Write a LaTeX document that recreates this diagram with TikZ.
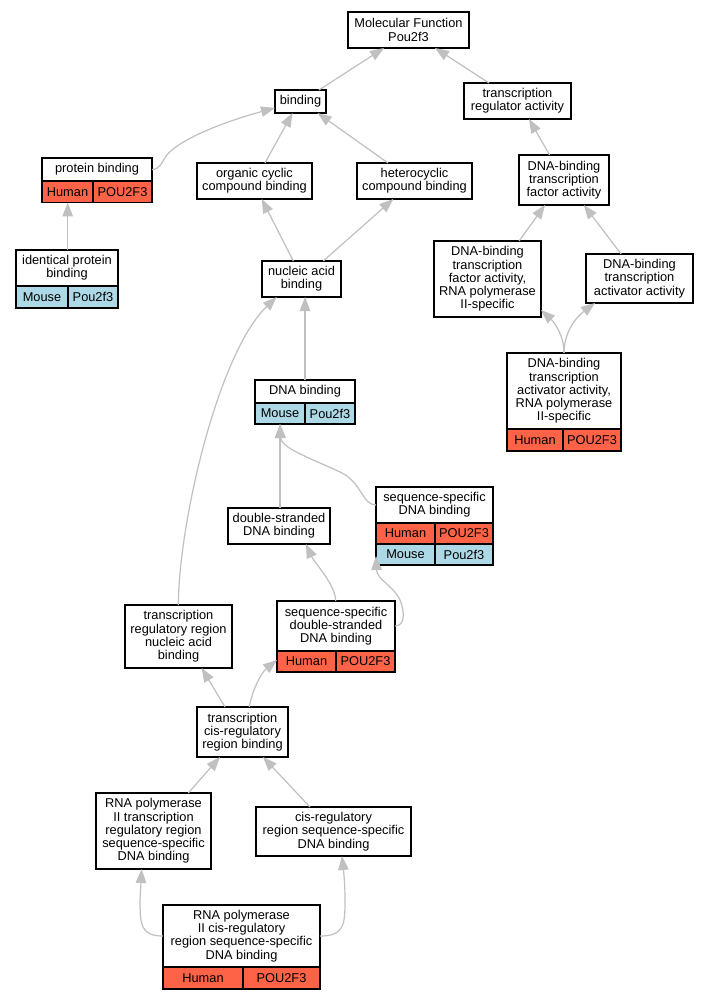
\documentclass[tikz,border=0pt]{standalone}
\usepackage{fontspec}
\setmainfont{Liberation Sans}
\usetikzlibrary{arrows.meta,calc}
\definecolor{human}{HTML}{FF6347}
\definecolor{mouse}{HTML}{ADD8E6}
\definecolor{edgegray}{HTML}{C0C0C0}
\newcommand\gobox[6]{%
  \pgfmathsetmacro\GBw{#4-#2}\pgfmathsetmacro\GBh{#5-#3}%
  \pgfmathsetmacro\GBx{(#2+#4)/2}\pgfmathsetmacro\GBy{(#3+#5)/2}%
  \node[gonode, minimum width=\GBw pt, minimum height=\GBh pt] (#1) at (\GBx,\GBy) {#6};}
\newcommand\gocell[7]{%
  \pgfmathsetmacro\GBw{#4-#2}\pgfmathsetmacro\GBh{#5-#3}%
  \pgfmathsetmacro\GBx{(#2+#4)/2}\pgfmathsetmacro\GBy{(#3+#5)/2}%
  \node[gonode, fill=#6, minimum width=\GBw pt, minimum height=\GBh pt] (#1) at (\GBx,\GBy) {#7};}
\tikzset{
  gonode/.style={draw=black, line width=1.1pt, fill=white, inner sep=0pt, outer sep=0pt,
    align=center, font=\fontsize{12.8}{13.3}\selectfont},
  goedge/.style={draw=edgegray, line width=1.2pt, -{Triangle[length=14pt,width=10.5pt]}}
}
\begin{document}
\begin{tikzpicture}[x=1pt,y=-1pt]
\fill[white] (0,0) rectangle (709,1000);
\useasboundingbox (0,0) rectangle (709,1000);
% nodes
\gobox{mf}{348}{12}{469}{48}{Molecular Function\\Pou2f3}
\gobox{bind}{275}{90}{326}{113}{binding}
\gobox{tra}{464}{83}{571}{119}{transcription\\regulator activity}
\gobox{pb}{42}{158}{152}{181}{protein binding}
\gocell{pbh}{42}{181}{93}{202.5}{human}{Human}
\gocell{pbg}{93}{181}{152}{202.5}{human}{POU2F3}
\gobox{occb}{197}{163}{312}{199}{organic cyclic\\compound binding}
\gobox{hcb}{357}{163}{472}{199}{heterocyclic\\compound binding}
\gobox{dtf}{519}{155}{609}{205}{DNA-binding\\transcription\\factor activity}
\gobox{ipb}{16}{250}{118}{286}{identical protein\\binding}
\gocell{ipbm}{16}{286}{68}{308}{mouse}{Mouse}
\gocell{ipbg}{68}{286}{118}{308}{mouse}{Pou2f3}
\gobox{nab}{262}{261}{341}{297}{nucleic acid\\binding}
\gobox{dtfr}{434}{241}{541}{317}{DNA-binding\\transcription\\factor activity,\\RNA polymerase\\II-specific}
\gobox{dta}{586}{254}{693}{303}{DNA-binding\\transcription\\activator activity}
\gobox{dtar}{507}{353}{621}{429}{DNA-binding\\transcription\\activator activity,\\RNA polymerase\\II-specific}
\gocell{dtarh}{507}{429}{563}{451}{human}{Human}
\gocell{dtarg}{563}{429}{621}{451}{human}{POU2F3}
\gobox{dnab}{255}{380}{355}{403}{DNA binding}
\gocell{dnabm}{255}{403}{305}{424}{mouse}{Mouse}
\gocell{dnabg}{305}{403}{355}{424}{mouse}{Pou2f3}
\gobox{ssdb}{376}{487}{493}{523}{sequence-specific\\DNA binding}
\gocell{ssdbh}{376}{523}{435}{544}{human}{Human}
\gocell{ssdbhg}{435}{523}{493}{544}{human}{POU2F3}
\gocell{ssdbm}{376}{544}{435}{565}{mouse}{Mouse}
\gocell{ssdbmg}{435}{544}{493}{565}{mouse}{Pou2f3}
\gobox{dsdb}{228}{508}{330}{544}{double-stranded\\DNA binding}
\gobox{trr}{125}{605}{232}{668}{transcription\\regulatory region\\nucleic acid\\binding}
\gobox{ssds}{277}{601}{395}{651}{sequence-specific\\double-stranded\\DNA binding}
\gocell{ssdsh}{277}{651}{336}{672}{human}{Human}
\gocell{ssdsg}{336}{651}{395}{672}{human}{POU2F3}
\gobox{tcr}{197}{707}{288}{757}{transcription\\cis-regulatory\\region binding}
\gobox{rtr}{96}{793}{211}{869}{RNA polymerase\\II transcription\\regulatory region\\sequence-specific\\DNA binding}
\gobox{cis}{256}{807}{411}{856}{cis-regulatory\\region sequence-specific\\DNA binding}
\gobox{rcis}{163}{905}{320}{967}{RNA polymerase\\II cis-regulatory\\region sequence-specific\\DNA binding}
\gocell{rcish}{163}{967}{243}{989}{human}{Human}
\gocell{rcisg}{243}{967}{320}{989}{human}{POU2F3}
% edges
\draw[goedge] ($(bind.north west)+(44,0)$) -- ($(mf.south west)+(36,0)$);
\draw[goedge] ($(tra.north west)+(25,0)$) -- ($(mf.south west)+(87,0)$);
\draw[goedge] (pb.east) .. controls (160,169.5) and (162,162) .. (166,156) .. controls (180,138) and (230,120) .. ($(bind.south west)+(0,-5)$);
\draw[goedge] ($(occb.north west)+(68,0)$) -- ($(bind.south west)+(17.5,0)$);
\draw[goedge] ($(hcb.north west)+(31,0)$) -- ($(bind.south west)+(42.5,0)$);
\draw[goedge] ($(dtf.north west)+(30.6,0)$) -- ($(tra.south west)+(65,0)$);
\draw[goedge] ($(ipb.north west)+(51.7,0)$) -- ($(pbh.south west)+(25.7,0)$);
\draw[goedge] ($(nab.north west)+(31.3,0)$) -- ($(occb.south west)+(64.7,0)$);
\draw[goedge] ($(nab.north west)+(61.3,0)$) -- ($(hcb.south west)+(36.3,0)$);
\draw[goedge] ($(dtfr.north west)+(85.1,0)$) -- ($(dtf.south west)+(26,0)$);
\draw[goedge] ($(dta.north west)+(35.1,0)$) -- ($(dtf.south west)+(64.8,0)$);
\draw[goedge] ($(dtar.north west)+(57,0)$) .. controls (564,335) and (554,322) .. ($(dtfr.south east)+(0,-7)$);
\draw[goedge] ($(dtar.north west)+(57,0)$) .. controls (564,333) and (575,318) .. ($(dta.south west)+(9,0)$);
\draw[goedge] ($(dnab.north west)+(50,0)$) -- ($(nab.south west)+(43,0)$);
\draw[goedge] ($(trr.north west)+(53.3,0)$) .. controls (179,520) and (219,352) .. ($(nab.south west)+(14.7,0)$);
\draw[goedge] (ssdb.west) .. controls (362,505) and (362,482) .. (340,472) .. controls (310,458) and (281,448) .. ($(dnabm.south west)+(25,0)$);
\draw[goedge] ($(dsdb.north west)+(52,0)$) -- ($(dnabm.south west)+(25,0)$);
\draw[goedge] ($(ssds.north west)+(58.7,0)$) .. controls (335.7,585) and (314,562) .. ($(dsdb.south west)+(78,0)$);
\draw[goedge] (ssds.east) .. controls (405,626) and (405,612) .. (400,600) .. controls (393,585) and (377,580) .. ($(ssdbm.south west)+(0,-9)$);
\draw[goedge] ($(tcr.north west)+(28,0)$) -- ($(trr.south west)+(76.7,0)$);
\draw[goedge] ($(tcr.north west)+(52.3,0)$) .. controls (252,690) and (262,672) .. ($(ssdsh.north west)+(0,9)$);
\draw[goedge] ($(rtr.north west)+(92.3,0)$) -- ($(tcr.south west)+(23,0)$);
\draw[goedge] ($(cis.north west)+(54,0)$) -- ($(tcr.south west)+(66,0)$);
\draw[goedge] (rcis.west) .. controls (141,936) and (140,925) .. (140,900) -- ($(rtr.south west)+(45.7,0)$);
\draw[goedge] (rcis.east) .. controls (344,936) and (345,925) .. (345,900) .. controls (345,880) and (343,866) .. ($(cis.south west)+(86,0)$);
\end{tikzpicture}
\end{document}
